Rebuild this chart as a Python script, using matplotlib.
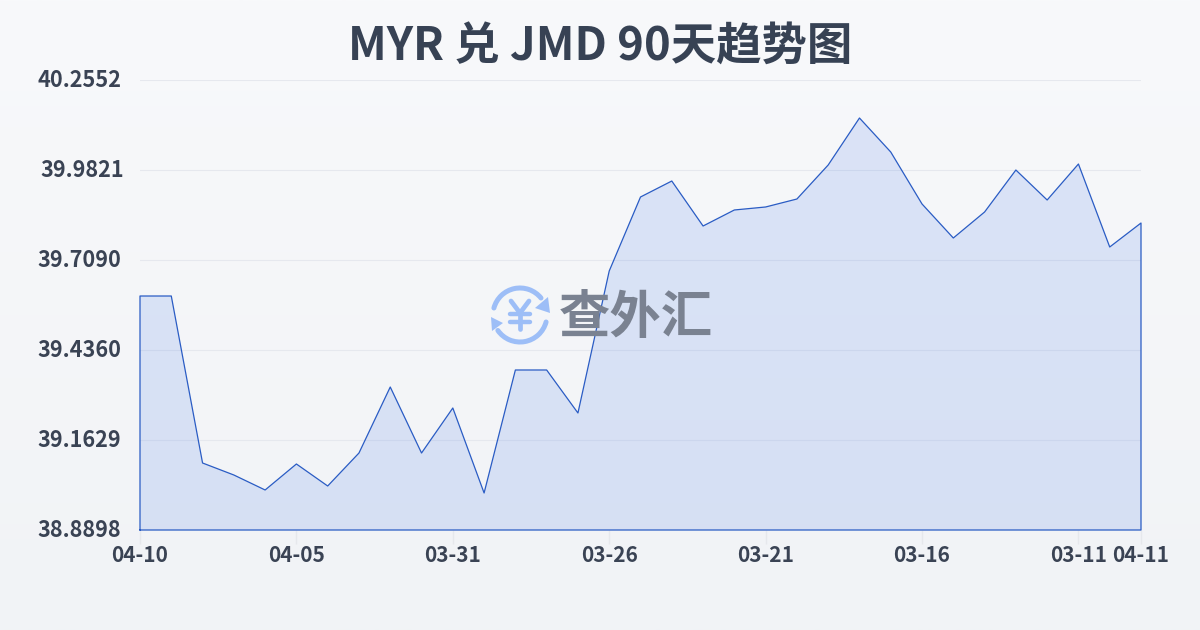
# -*- coding: utf-8 -*-
import matplotlib
matplotlib.use("Agg")
import matplotlib.pyplot as plt
from matplotlib.patches import Arc, Polygon
from matplotlib.transforms import ScaledTranslation
import numpy as np

plt.rcParams['font.family'] = ['Noto Sans CJK SC', 'DejaVu Sans']

title = "MYR 兑 JMD 90天趋势图"
rates = [39.5998, 39.5998, 39.0931, 39.0567, 39.0112, 39.0901, 39.0233, 39.1234,
         39.3237, 39.1234, 39.2600, 39.0021, 39.3753, 39.3753, 39.2448, 39.6757,
         39.9002, 39.9487, 39.8122, 39.8608, 39.8699, 39.8941, 39.9973, 40.1399,
         40.0367, 39.8790, 39.7758, 39.8547, 39.9821, 39.8911, 40.0003, 39.7485,
         39.8213]
xtick_pos = [0, 5, 10, 15, 20, 25, 30, 32]
xtick_labels = ["04-10", "04-05", "03-31", "03-26", "03-21", "03-16", "03-11", "04-11"]
ytick_vals = [38.8898, 39.1629, 39.4360, 39.7090, 39.9821, 40.2552]
ytick_labels = ["38.8898", "39.1629", "39.4360", "39.7090", "39.9821", "40.2552"]

W, H = 1200, 630
fig = plt.figure(figsize=(12, 6.3), dpi=100)

# background gradient
bg = fig.add_axes([0, 0, 1, 1], zorder=0)
bg.imshow(np.linspace(0, 1, 256).reshape(-1, 1), aspect='auto', extent=[0, W, H, 0],
          cmap=matplotlib.colors.LinearSegmentedColormap.from_list("bg", ["#f8f9fb", "#f1f3f6"]))
bg.set_xlim(0, W)
bg.set_ylim(H, 0)
bg.axis('off')

ax = fig.add_axes([140 / W, 100 / H, 1001 / W, 450 / H], zorder=1)
ax.patch.set_alpha(0)
x = np.arange(len(rates))
ax.set_xlim(0, 32)
ax.set_ylim(38.8898, 40.2552)

ax.set_yticks(ytick_vals)
ax.set_yticklabels(ytick_labels, fontsize=15.6, fontweight='bold', color="#3a4354")
ax.set_xticks(xtick_pos)
ax.set_xticklabels(xtick_labels, fontsize=15, fontweight='bold', color="#3a4354")
ax.tick_params(axis='y', length=0, pad=13.5)
ax.tick_params(axis='x', length=10, width=1, color="#e6e8ec", pad=0.5)
ax.grid(axis='y', color="#e6e8ee", linewidth=0.8)
ax.set_axisbelow(True)
for s in ax.spines.values():
    s.set_visible(False)

# y labels sit a little above their grid lines, 39.9821 is also shifted right
for lab in ax.get_yticklabels():
    dx = 2.5 if lab.get_text() == "39.9821" else 0
    lab.set_transform(lab.get_transform() + ScaledTranslation(dx / 100, 2 / 100, fig.dpi_scale_trans))

# area
ax.fill_between(x, rates, ytick_vals[0], facecolor="#3b70e8", alpha=0.15, linewidth=0, zorder=2)
ax.plot(np.r_[x[0], x, x[-1], x[0]], np.r_[ytick_vals[0], rates, ytick_vals[0], ytick_vals[0]],
        color="#2a5cc4", linewidth=0.9, zorder=5, clip_on=False)

# watermark
ov = fig.add_axes([0, 0, 1, 1], zorder=2)
ov.patch.set_alpha(0)
ov.set_xlim(0, W)
ov.set_ylim(H, 0)
ov.axis('off')
logo = "#9dbef7"
cx, cy = 520, 315
# y axis is inverted here, so arc angles run the other way round
ov.add_patch(Arc((cx, cy), 54, 54, theta1=195, theta2=321, color=logo, lw=3.6, capstyle='round'))
ov.add_patch(Arc((cx, cy), 54, 54, theta1=15, theta2=145, color=logo, lw=3.6, capstyle='round'))
ov.add_patch(Polygon([[548, 297], [550, 313], [535, 308]], color=logo, lw=0))
ov.add_patch(Polygon([[491, 317], [503, 323], [492, 331]], color=logo, lw=0))
# yen sign
ov.plot([cx, cx], [315, 329], color=logo, lw=3.4, solid_capstyle='round')
ov.plot([cx - 9, cx, cx + 9], [301, 313, 301], color=logo, lw=3.4, solid_capstyle='round')
ov.plot([cx - 10, cx + 10], [314, 314], color=logo, lw=3.2, solid_capstyle='round')
ov.plot([cx - 10, cx + 10], [322, 322], color=logo, lw=3.2, solid_capstyle='round')
ov.text(636, 317, "查外汇", fontsize=37, fontweight='bold', color="#7a8291", ha='center', va='center')

fig.text(600 / W, 1 - 48 / H, title, fontsize=32.7, fontweight='bold', color="#374254",
         ha='center', va='center')

fig.savefig("out.png", dpi=100)
